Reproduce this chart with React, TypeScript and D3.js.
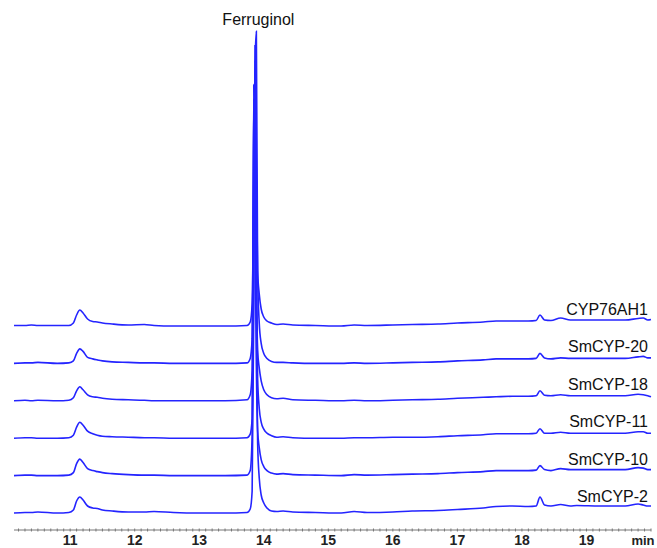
import React from "react";
import * as d3 from "d3";

// retention time grid (min) shared by all traces
const times = [
  10.13, 10.3, 10.4, 10.5, 10.8, 10.98, 11.05, 11.1, 11.15, 11.2, 11.27, 11.35, 11.42, 11.5, 11.65,
  11.9, 12.15, 12.3, 12.6, 13.0, 13.4, 13.74, 13.79, 13.82, 13.845, 13.865, 13.885, 13.905, 13.93,
  13.96, 14.0, 14.05, 14.12, 14.2, 14.3, 14.45, 14.8, 15.2, 15.4, 15.6, 16.0, 16.3, 16.7, 17.0, 17.4,
  17.6, 17.85, 18.1, 18.22, 18.28, 18.35, 18.45, 18.6, 18.75, 18.85, 19.2, 19.6, 19.8, 19.88, 19.95, 20.0,
];

// trace names, top to bottom
const traceNames = ["CYP76AH1", "SmCYP-20", "SmCYP-18", "SmCYP-11", "SmCYP-10", "SmCYP-2"];

const cyp76ah1 = [
  0.5, 0.5, 1, 0.5, 0.5, 0.5, 3, 11, 16, 13, 7, 4.5, 4, 3, 2, 1, 1.5, 0.5, 0, 0, 0, 0.5, 4, 22, 140, 266,
  150, 55, 32, 17, 9, 5, 3, 1.5, 2, 1, 0.5, 0, 1, 0.5, 1, 1.5, 2, 3, 4, 5, 5, 5, 5.5, 11, 6, 5.5, 8, 6,
  6, 6, 6, 7.5, 8, 6, 6.5,
];
const smcyp20 = [
  0, 0.5, 0.5, 1, 0, 0.5, 2.5, 10, 14.5, 12, 6, 4.5, 3.5, 2.5, 1.5, 1, 0.5, 0.5, 0, 0, 0, 0.5, 5, 25, 150,
  300, 332, 90, 40, 20, 10, 5, 2, 1, 1, 0.5, 0, 0, 0.5, 0, 0.5, 1, 1.5, 2.5, 3.5, 4.5, 4.5, 4.5, 5, 10,
  5.5, 4.5, 5.5, 5, 5, 5, 5, 6.5, 7, 5.5, 5.5,
];
const smcyp18 = [
  0, 0.5, 0, 0.5, 0, 0.5, 3, 10, 14, 11, 6, 4, 3.5, 2.5, 1.5, 1, 0.5, 0, 0, 0, 0, 1, 6, 30, 302, 220, 120,
  50, 33, 20, 11, 6, 3, 2, 2.5, 1, 0.5, 0, 0.5, 0, 0.5, 1, 1.5, 2.5, 3.5, 4, 4.5, 4.5, 5, 10, 5.5, 5, 6,
  5, 5, 5, 5, 6.5, 6, 5, 4,
];
const smcyp11 = [
  0, 0.5, 0.5, 0, 0, 0.5, 3, 11, 16, 13, 7, 4.5, 3, 2, 1.5, 1, 0.5, 0.5, 0, 0, 0, 0.5, 4, 20, 160, 365,
  180, 60, 30, 16, 9, 5, 2.5, 1, 1.5, 0.5, 0, 0, 0.5, 0.5, 1, 1, 1.5, 2.5, 3.5, 4.5, 4.5, 4.5, 5, 9.5, 5,
  5, 6, 5, 5, 5, 5, 6.5, 6.5, 5, 5,
];
const smcyp10 = [
  0, 0.5, 0.5, 0, 0, 0.5, 3, 12, 16.5, 13, 7, 5, 4, 3, 2, 1, 0.5, 0.5, 0, 0, 0, 0.5, 5, 40, 391, 250, 110,
  45, 28, 16, 9, 5, 2.5, 1.5, 2, 1, 0.5, 0, 1, 0.5, 1, 1.5, 2, 3, 4, 5, 5, 5, 5.5, 10, 6, 5, 7, 6, 6, 6,
  6, 8, 7.5, 6, 6,
];
const smcyp2 = [
  0, 0.5, 0.5, 1, 0, 0.5, 3, 12, 16, 13, 7, 5, 4.5, 3, 2, 1, 1, 1.5, 0.5, 0, 0, 0.5, 4, 22, 200, 468, 200,
  70, 35, 18, 10, 5, 2, 1.5, 2, 1, 0.5, 0, 1.5, 0.5, 1, 2, 2.5, 3.5, 5, 6.5, 7, 6.5, 7, 16, 8, 7, 8.5, 7,
  7.5, 7, 7, 9, 8, 7, 7,
];

const traceValues = [cyp76ah1, smcyp20, smcyp18, smcyp11, smcyp10, smcyp2];

const tickLabels = [11, 12, 13, 14, 15, 16, 17, 18, 19];
const peakLabel = "Ferruginol";
const peakTime = 13.87;

const W = 657;
const H = 548;

export default function App() {
  const x = d3.scaleLinear().domain([10.13, 20]).range([14, 651]);
  const baseline = d3.scalePoint<string>().domain(traceNames).range([326, 513]);
  const intensity = d3.scaleLinear().domain([0, 500]).range([0, 500]);
  const axisY = 530;

  const minorTicks = d3.range(102, 201).map((d) => d / 10);

  return (
    <svg
      width={W}
      height={H}
      style={{ position: "absolute", left: 0, top: 0, background: "#fff" }}
      fontFamily="Arial, 'Liberation Sans', sans-serif"
    >
      {traceNames.map((name, i) => {
        const b = baseline(name) as number;
        const line = d3
          .line<number>()
          .x((_, j) => x(times[j]))
          .y((v) => b - intensity(v))
          .curve(d3.curveMonotoneX);
        return (
          <g key={name}>
            <path d={line(traceValues[i]) || ""} fill="none" stroke="#2424ff" strokeWidth={1.6} />
            <text x={648} y={b - 11} textAnchor="end" fontSize={16} fill="#111">
              {name}
            </text>
          </g>
        );
      })}

      <text x={x(peakTime) + 3} y={25} textAnchor="middle" fontSize={16} fill="#111">
        {peakLabel}
      </text>

      {/* time axis */}
      <line x1={x(10.13)} x2={x(20)} y1={axisY} y2={axisY} stroke="#777" strokeWidth={1} />
      {minorTicks.map((t) => (
        <line key={t} x1={x(t)} x2={x(t)} y1={axisY - 1.5} y2={axisY + 1.5} stroke="#777" strokeWidth={1} />
      ))}
      {tickLabels.map((t) => (
        <text key={t} x={x(t)} y={axisY + 15} textAnchor="middle" fontSize={14} fontWeight="bold" fill="#222">
          {t}
        </text>
      ))}
      <text x={643} y={axisY + 15} textAnchor="middle" fontSize={13} fontWeight="bold" fill="#222">
        min
      </text>
    </svg>
  );
}
